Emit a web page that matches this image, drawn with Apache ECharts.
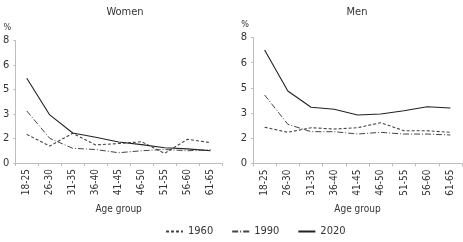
<!DOCTYPE html>
<html><head><meta charset="utf-8">
<script src="https://cdn.jsdelivr.net/npm/echarts@6/dist/echarts.min.js"></script>
<style>html,body{margin:0;padding:0;background:#fff}#c{width:463px;height:242px}</style>
</head><body><div id="c"></div>
<script>
const categories = ['18-25','26-30','31-35','36-40','41-45','46-50','51-55','56-60','61-65'];
const yTicks = [0, 1.6, 3.2, 4.8, 6.4, 8];
const women1960 = [1.87, 1.11, 1.94, 1.18, 1.27, 1.39, 0.63, 1.55, 1.33];
const women1990 = [3.4, 1.61, 0.96, 0.88, 0.67, 0.8, 0.88, 0.8, 0.87];
const women2020 = [5.53, 3.14, 1.96, 1.68, 1.37, 1.2, 1.0, 0.92, 0.8];
const men1960 = [2.3, 1.98, 2.27, 2.19, 2.27, 2.59, 2.08, 2.08, 1.98];
const men1990 = [4.35, 2.49, 2.02, 2.02, 1.87, 1.98, 1.87, 1.87, 1.81];
const men2020 = [7.2, 4.6, 3.57, 3.44, 3.08, 3.14, 3.35, 3.6, 3.52];
const titles = ['Women', 'Men'];
const years = ['1960', '1990', '2020'];

const FONT = '"DejaVu Sans Condensed", "Liberation Sans Narrow", sans-serif';
const TXT = '#333';
const AX = '#bdbdbd';
const styles = [
  {type: [3, 2], width: 1.1, color: '#444'},
  {type: [6, 2, 1, 2], width: 1, color: '#444'},
  {type: 'solid', width: 1.1, color: '#222'}
];

function xAxis(i) {
  return {
    type: 'category', gridIndex: i, data: categories, boundaryGap: true,
    name: 'Age group', nameLocation: 'middle', nameGap: 41,
    nameTextStyle: {fontFamily: FONT, fontSize: 10, color: TXT},
    axisLine: {lineStyle: {color: AX, width: 1}},
    axisTick: {show: true, length: 3, lineStyle: {color: AX}},
    axisLabel: {rotate: 90, fontFamily: FONT, fontSize: 10, color: TXT, margin: 6}
  };
}
function yAxis(i) {
  return {
    type: 'value', gridIndex: i, min: 0, max: 8, interval: 1.6,
    name: '%', nameLocation: 'end', nameGap: 8,
    nameTextStyle: {fontFamily: FONT, fontSize: 9, color: TXT, align: 'right', padding: [0, 4, 0, 0]},
    axisLine: {show: true, lineStyle: {color: AX, width: 1}},
    axisTick: {show: true, length: 2, lineStyle: {color: AX}},
    splitLine: {show: false},
    axisLabel: {fontFamily: FONT, fontSize: 11, color: TXT, margin: 6,
      formatter: v => String(Math.round(v))}
  };
}
const data = [[women1960, women1990, women2020], [men1960, men1990, men2020]];
const series = [];
data.forEach((grp, g) => grp.forEach((vals, k) => {
  series.push({
    type: 'line', name: years[k], xAxisIndex: g, yAxisIndex: g, data: vals,
    showSymbol: false, symbol: 'none', smooth: false, animation: false,
    lineStyle: styles[k], itemStyle: {color: styles[k].color}
  });
}));

const chart = echarts.init(document.getElementById('c'), null, {renderer: 'canvas'});
chart.setOption({
  animation: false,
  title: [
    {text: titles[0], left: 120, top: 2, textAlign: 'center', textStyle: {fontFamily: FONT, fontSize: 11, fontWeight: 'normal', color: TXT}},
    {text: titles[1], left: 352, top: 2, textAlign: 'center', textStyle: {fontFamily: FONT, fontSize: 11, fontWeight: 'normal', color: TXT}}
  ],
  grid: [
    {left: 13, right: 241, top: 40.5, bottom: 79, containLabel: false},
    {left: 253, right: 1, top: 37.5, bottom: 78.5, containLabel: false}
  ],
  xAxis: [xAxis(0), xAxis(1)],
  yAxis: [yAxis(0), yAxis(1)],
  legend: {
    data: years, bottom: 0, left: 160, itemWidth: 17, itemHeight: 8, itemGap: 18,
    itemStyle: {color: 'rgba(0,0,0,0)', borderWidth: 0, opacity: 0},
    textStyle: {fontFamily: FONT, fontSize: 11, color: TXT}
  },
  series: series
});
</script></body></html>
